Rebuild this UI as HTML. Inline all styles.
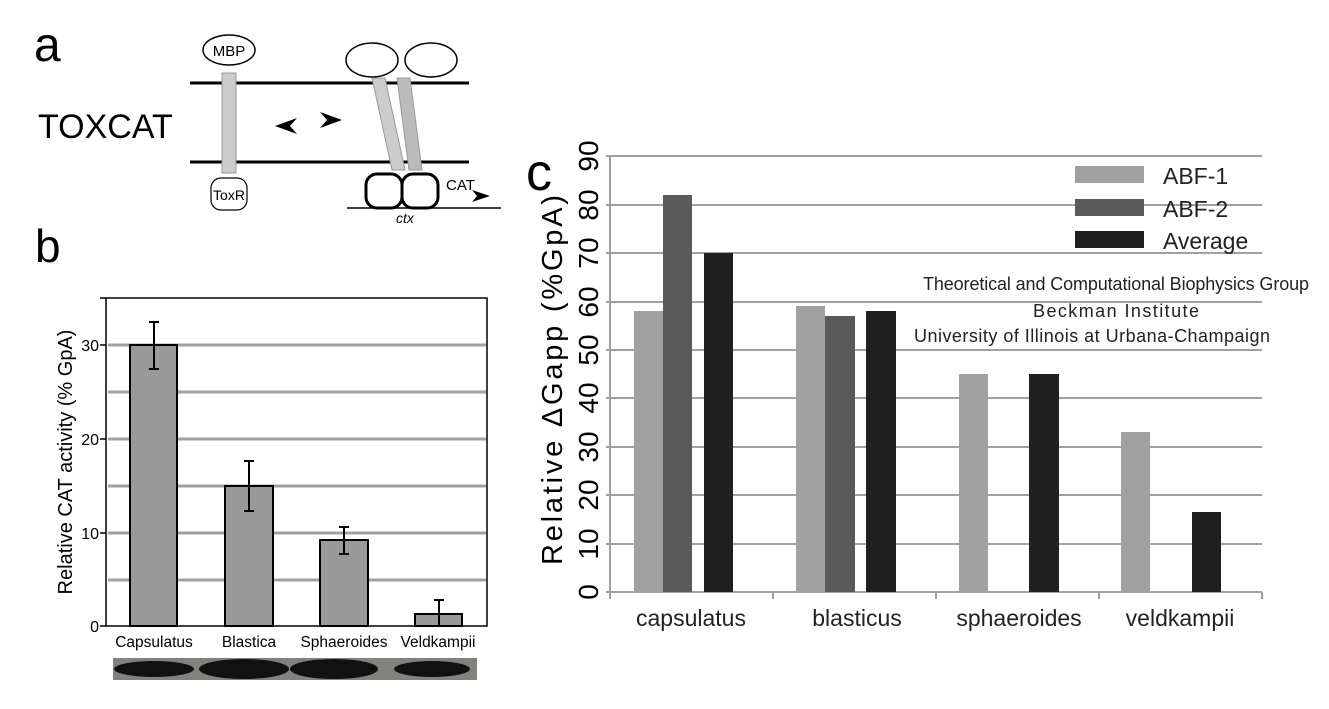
<!DOCTYPE html>
<html><head><meta charset="utf-8"><style>
html,body{margin:0;padding:0;background:#fff;}
svg{display:block;font-family:"Liberation Sans",sans-serif;}
</style></head><body>
<svg width="1329" height="709" viewBox="0 0 1329 709" xmlns="http://www.w3.org/2000/svg">
<!-- panel a -->
<text x="34" y="61" font-size="48">a</text>
<text x="38" y="138" font-size="34">TOXCAT</text>
<line x1="190" y1="83" x2="469" y2="83" stroke="#000" stroke-width="3"/>
<line x1="190" y1="162" x2="469" y2="162" stroke="#000" stroke-width="3"/>
<ellipse cx="229" cy="50" rx="26" ry="15" fill="#fff" stroke="#000" stroke-width="1.5"/>
<text x="229" y="56" font-size="15" text-anchor="middle">MBP</text>
<ellipse cx="372" cy="60" rx="26" ry="17" fill="#fff" stroke="#000" stroke-width="1.5"/>
<ellipse cx="431" cy="60" rx="26" ry="17" fill="#fff" stroke="#000" stroke-width="1.5"/>
<rect x="222" y="73" width="14" height="100" fill="#ccc" stroke="#999"/>
<path d="M385 78 L405 170 L392 170 L372 78Z" fill="#ccc" stroke="#999"/>
<path d="M410 78 L422 170 L409 170 L397 78Z" fill="#bbb" stroke="#999"/>
<rect x="211" y="178" width="36" height="32" rx="10" fill="#fff" stroke="#000" stroke-width="1.2"/>
<text x="229" y="200" font-size="14" text-anchor="middle">ToxR</text>
<polygon points="275,126 297,118 290,126 297,134" fill="#000"/>
<polygon points="342,120 320,112 327,120 320,128" fill="#000"/>
<rect x="366" y="174" width="36" height="34" rx="11" fill="#fff" stroke="#000" stroke-width="3"/>
<rect x="402" y="174" width="36" height="34" rx="11" fill="#fff" stroke="#000" stroke-width="3"/>
<line x1="347" y1="208" x2="501" y2="208" stroke="#000" stroke-width="1.5"/>
<text x="446" y="190" font-size="15">CAT</text>
<polygon points="490,196 472,190 477,196 472,202" fill="#000"/>
<text x="396" y="223" font-size="14" font-style="italic">ctx</text>
<!-- panel b -->
<text x="35" y="262" font-size="46">b</text>
<g stroke="#a0a0a0" stroke-width="3">
<line x1="108" y1="580" x2="486" y2="580"/><line x1="108" y1="533" x2="486" y2="533"/>
<line x1="108" y1="486" x2="486" y2="486"/><line x1="108" y1="439" x2="486" y2="439"/>
<line x1="108" y1="392" x2="486" y2="392"/><line x1="108" y1="345" x2="486" y2="345"/>
</g>
<rect x="106" y="298" width="381" height="328" fill="none" stroke="#000" stroke-width="1.5"/>
<g stroke="#000" stroke-width="1.5">
<line x1="100" y1="626" x2="106" y2="626"/><line x1="100" y1="533" x2="106" y2="533"/>
<line x1="100" y1="439" x2="106" y2="439"/><line x1="100" y1="345" x2="106" y2="345"/><line x1="100" y1="298" x2="106" y2="298"/>
</g>
<g font-size="16" text-anchor="end"><text x="99" y="632">0</text><text x="99" y="539">10</text><text x="99" y="445">20</text><text x="99" y="351">30</text></g>
<g fill="#999" stroke="#000" stroke-width="2">
<rect x="130" y="345" width="47" height="281"/><rect x="225" y="486" width="48" height="140"/>
<rect x="320" y="540" width="48" height="86"/><rect x="415" y="614" width="47" height="12"/>
</g>
<g stroke="#000" stroke-width="2">
<line x1="154" y1="322" x2="154" y2="369"/><line x1="149" y1="322" x2="159" y2="322"/><line x1="149" y1="369" x2="159" y2="369"/>
<line x1="249" y1="461" x2="249" y2="511"/><line x1="244" y1="461" x2="254" y2="461"/><line x1="244" y1="511" x2="254" y2="511"/>
<line x1="344" y1="527" x2="344" y2="554"/><line x1="339" y1="527" x2="349" y2="527"/><line x1="339" y1="554" x2="349" y2="554"/>
<line x1="439" y1="600" x2="439" y2="626"/><line x1="434" y1="600" x2="444" y2="600"/>
</g>
<g font-size="15.5" text-anchor="middle"><text x="154" y="647">Capsulatus</text><text x="249" y="647">Blastica</text><text x="344" y="647">Sphaeroides</text><text x="438" y="647">Veldkampii</text></g>
<text transform="translate(72,462) rotate(-90)" font-size="20" text-anchor="middle">Relative CAT activity (% GpA)</text>
<rect x="113" y="658" width="364" height="22" fill="#7f827d"/>
<g fill="#111"><ellipse cx="154" cy="669" rx="40" ry="8"/><ellipse cx="244" cy="669" rx="45" ry="10"/><ellipse cx="334" cy="669" rx="44" ry="10"/><ellipse cx="432" cy="669" rx="38" ry="8"/></g>
<!-- panel c -->
<text x="526" y="190" font-size="52">c</text>
<g stroke="#a0a0a0" stroke-width="2">
<line x1="606" y1="156" x2="1262" y2="156"/><line x1="606" y1="205" x2="1262" y2="205"/>
<line x1="606" y1="253" x2="1262" y2="253"/><line x1="606" y1="302" x2="1262" y2="302"/>
<line x1="606" y1="350" x2="1262" y2="350"/><line x1="606" y1="398" x2="1262" y2="398"/>
<line x1="606" y1="447" x2="1262" y2="447"/><line x1="606" y1="495" x2="1262" y2="495"/>
<line x1="606" y1="544" x2="1262" y2="544"/>
<line x1="610" y1="156" x2="610" y2="592"/>
<line x1="606" y1="592" x2="1262" y2="592"/>
<line x1="610" y1="592" x2="610" y2="599"/><line x1="773" y1="592" x2="773" y2="599"/>
<line x1="936" y1="592" x2="936" y2="599"/><line x1="1099" y1="592" x2="1099" y2="599"/><line x1="1262" y1="592" x2="1262" y2="599"/>
</g>
<g fill="#a0a0a0"><rect x="634" y="311" width="29" height="281"/><rect x="796" y="306" width="29" height="286"/><rect x="959" y="374" width="29" height="218"/><rect x="1121" y="432" width="29" height="160"/></g>
<g fill="#5a5a5a"><rect x="663" y="195" width="29" height="397"/><rect x="825" y="316" width="30" height="276"/></g>
<g fill="#202020"><rect x="704" y="253" width="29" height="339"/><rect x="866" y="311" width="30" height="281"/><rect x="1029" y="374" width="30" height="218"/><rect x="1192" y="512" width="29" height="80"/></g>
<g font-size="28" text-anchor="middle">
<text transform="translate(598,592) rotate(-90)">0</text><text transform="translate(598,544) rotate(-90)">10</text>
<text transform="translate(598,495) rotate(-90)">20</text><text transform="translate(598,447) rotate(-90)">30</text>
<text transform="translate(598,398) rotate(-90)">40</text><text transform="translate(598,350) rotate(-90)">50</text>
<text transform="translate(598,302) rotate(-90)">60</text><text transform="translate(598,253) rotate(-90)">70</text>
<text transform="translate(598,205) rotate(-90)">80</text><text transform="translate(598,156) rotate(-90)">90</text>
</g>
<text transform="translate(562,380) rotate(-90)" font-size="29" text-anchor="middle" textLength="370">Relative  ΔGapp (%GpA)</text>
<g font-size="23" fill="#222" text-anchor="middle"><text x="691" y="626">capsulatus</text><text x="857" y="626">blasticus</text><text x="1019" y="626">sphaeroides</text><text x="1180" y="626">veldkampii</text></g>
<rect x="1075" y="166" width="69" height="17" fill="#a0a0a0"/>
<rect x="1075" y="199" width="69" height="17" fill="#5a5a5a"/>
<rect x="1075" y="231" width="69" height="17" fill="#202020"/>
<g font-size="23" fill="#222"><text x="1163" y="184">ABF-1</text><text x="1163" y="217">ABF-2</text><text x="1163" y="249">Average</text></g>
<g font-size="18" fill="#222" text-anchor="middle">
<text x="1116" y="290" textLength="386">Theoretical and Computational Biophysics Group</text>
<text x="1116" y="317" textLength="166">Beckman Institute</text>
<text x="1092" y="342" textLength="356">University of Illinois at Urbana-Champaign</text>
</g>
</svg>
</body></html>
